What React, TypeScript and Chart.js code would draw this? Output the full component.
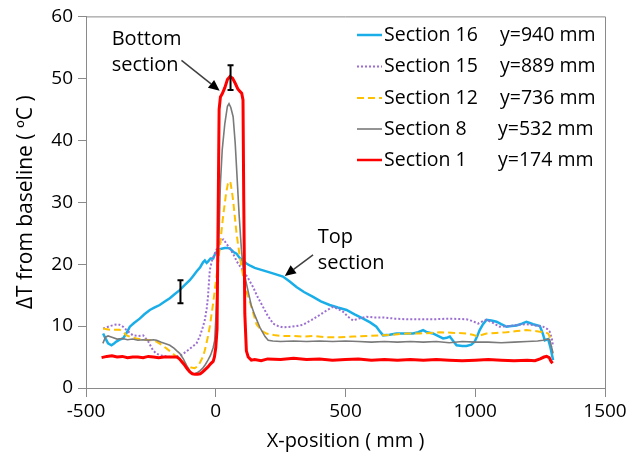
import React, { useEffect, useRef } from "react";
import { Chart, registerables } from "chart.js";

Chart.register(...registerables);

// ---- Data ----
const s16X = [-434,-425,-415,-402,-392,-383,-370,-357,-345,-331,-315,-293,-275,-254,-235,-216,-195,-177,-160,-139,-120,-100,-87,-74,-60,-49,-42,-35,-30,-20,-10,-4,9,22,35,47,55,67,80,92,105,118,135,150,182,220,259,285,311,340,375,405,439,470,504,535,568,595,619,633,645,670,696,730,760,780,799,815,837,856,876,890,902,915,928,950,966,985,998,1007,1017,1030,1043,1062,1082,1100,1120,1140,1159,1180,1197,1210,1223,1249,1260,1268,1281,1290,1300];
const s16Y = [8.8,8.0,7.2,6.9,7.2,7.5,7.8,8.0,8.8,9.9,10.5,11.2,11.9,12.6,13.0,13.4,14.0,14.5,15.1,15.8,16.6,17.4,18.1,18.8,19.5,20.3,20.6,20.2,20.4,20.9,20.9,21.5,22.3,22.5,22.6,22.6,22.5,22.0,21.7,21.0,20.6,20.1,19.7,19.4,19.0,18.5,18.0,17.2,16.3,15.5,14.7,14.0,13.4,13.0,12.6,11.9,11.2,10.6,9.9,9.1,8.5,8.6,8.8,8.8,8.8,9.0,9.35,9.0,8.8,8.4,8.0,8.1,8.3,7.6,6.9,6.8,6.8,7.0,7.5,8.3,9.35,10.3,11.0,10.9,10.7,10.3,9.9,10.0,10.1,10.4,10.7,10.5,10.3,10.0,8.8,7.7,7.9,6.5,4.5];

const s15X = [-434,-420,-408,-390,-376,-365,-357,-340,-319,-300,-280,-260,-242,-230,-216,-190,-170,-151,-130,-113,-95,-74,-60,-50,-42,-35,-30,-23,-15,-4,8,15,22,30,41,55,73,80,99,105,125,144,160,182,200,221,240,259,290,310,336,370,401,430,452,470,491,510,529,550,581,610,645,690,735,780,837,900,966,990,1011,1030,1043,1065,1094,1133,1165,1197,1230,1261,1278,1287,1295,1300];
const s15Y = [9.6,9.8,10.0,10.2,10.3,10.1,9.9,9.2,8.5,8.4,8.5,7.5,6.1,5.6,5.3,5.1,5.0,5.05,5.4,5.9,6.5,7.2,8.5,9.8,11.0,12.8,14.7,19.0,20.5,21.7,22.8,23.3,23.9,24.0,23.3,22.5,21.2,20.5,19.3,19.0,17.7,16.3,14.8,13.1,11.7,10.4,10.0,9.8,9.9,10.0,10.2,11.0,11.8,12.6,13.1,12.8,12.3,11.5,10.9,11.2,11.5,11.4,11.4,11.2,11.1,11.1,11.1,11.2,11.1,10.8,10.4,10.8,11.0,10.6,9.9,10.0,10.2,10.3,10.1,9.9,9.5,9.1,8.0,6.7];

const s12X = [-434,-420,-408,-390,-370,-355,-344,-325,-306,-280,-250,-228,-210,-190,-170,-151,-130,-113,-95,-81,-70,-62,-50,-42,-30,-23,-10,3,15,28,40,47,52,57,62,67,80,90,99,115,131,145,157,175,195,230,259,300,340,375,420,478,530,580,632,680,735,786,830,863,920,966,990,1005,1020,1043,1080,1120,1160,1197,1230,1249,1270,1281,1294];
const s12Y = [9.6,9.5,9.4,9.4,9.4,9.0,8.5,8.2,8.0,7.8,7.7,7.5,7.0,6.4,5.7,5.05,4.3,3.7,3.3,3.2,3.5,4.0,5.0,6.1,8.3,9.9,13.7,18.0,22.5,27.6,31.5,33.0,33.4,33.1,31.8,30.3,25.0,22.0,19.6,16.0,14.0,12.0,10.3,9.3,8.8,8.5,8.4,8.4,8.3,8.4,8.2,8.2,8.3,8.4,8.5,8.6,8.8,8.8,8.9,9.0,8.9,8.8,8.6,8.4,8.5,8.8,8.9,9.0,9.2,9.35,9.2,9.1,9.0,8.8,7.7];

const s8X = [-435,-425,-415,-400,-380,-360,-340,-320,-300,-280,-260,-240,-228,-210,-190,-177,-160,-150,-139,-125,-113,-100,-94,-90,-80,-70,-60,-50,-40,-30,-20,-10,-4,0,5,9,18,25,35,45,51,58,67,75,80,90,99,105,118,137,150,170,190,202,220,250,300,350,400,450,500,550,600,650,700,750,800,850,900,950,1000,1050,1100,1150,1200,1240,1261,1280,1287,1293,1300];
const s8Y = [7.2,8.2,8.4,8.2,7.9,8.0,7.8,7.9,7.7,7.8,7.7,7.8,7.7,7.4,7.1,6.9,6.4,6.0,5.6,4.7,3.7,2.8,2.4,2.3,2.3,2.5,2.8,3.2,3.8,4.5,5.3,6.5,7.7,11.0,16.0,19.6,33.0,38.5,42.7,45.5,45.9,45.3,43.8,39.5,35.7,28.0,22.3,19.6,16.9,13.3,11.8,9.8,8.3,7.7,7.6,7.5,7.6,7.5,7.6,7.5,7.6,7.5,7.4,7.5,7.4,7.5,7.4,7.5,7.3,7.5,7.4,7.4,7.3,7.4,7.5,7.6,7.7,7.9,7.8,6.8,5.6];

const s1X = [-440,-420,-400,-380,-360,-340,-320,-300,-280,-260,-240,-220,-200,-180,-160,-150,-140,-130,-120,-110,-100,-90,-80,-70,-60,-50,-40,-30,-20,-10,-5,0,5,9,13,18,25,35,45,55,65,75,85,95,100,105,108,112,118,125,137,150,175,200,250,300,350,400,450,500,550,600,650,700,750,800,850,900,950,1000,1050,1100,1150,1200,1230,1250,1265,1275,1285,1292,1298];
const s1Y = [4.9,5.1,5.2,5.0,5.1,4.9,5.0,5.0,4.9,5.1,5.0,4.9,5.0,5.0,5.0,5.0,4.7,4.2,3.7,3.1,2.6,2.3,2.2,2.2,2.3,2.6,3.0,3.4,3.9,4.3,5.0,6.5,9.5,27.0,45.0,47.0,47.5,48.5,49.8,50.3,50.0,49.2,48.3,47.8,47.6,46.5,30.0,12.0,6.0,5.0,4.5,4.6,4.4,4.7,4.6,4.8,4.6,4.7,4.5,4.6,4.7,4.5,4.6,4.5,4.6,4.5,4.6,4.5,4.4,4.5,4.6,4.5,4.4,4.5,4.4,4.7,5.0,5.1,4.9,4.3,4.0];

const seriesNames = ["Section 16", "Section 15", "Section 12", "Section 8", "Section 1"];
const seriesHeights = ["y=940 mm", "y=889 mm", "y=736 mm", "y=532 mm", "y=174 mm"];
const seriesColors = ["#1AAEE8", "#9B6FD0", "#FFC000", "#7A7A7A", "#FF0000"];

const xTicks = [-500, 0, 500, 1000, 1500];
const yTicks = [0, 10, 20, 30, 40, 50, 60];

// error bars (data units)
const errX = [-136, 57];
const errLow = [13.7, 48.1];
const errHigh = [17.4, 52.1];

// annotations (data units)
const noteLines = [["Bottom", "section"], ["Top", "section"]];
const noteX = [-401, 393];
const noteY = [[56.3, 52.1], [24.4, 20.1]];
const arrowFromX = [-132, 375];
const arrowFromY = [52.9, 21.5];
const arrowToX = [15, 266];
const arrowToY = [48.0, 18.1];

const FONT = "'Open Sans', 'DejaVu Sans', sans-serif";

function pts(xs: number[], ys: number[]) {
  return xs.map((x, i) => ({ x, y: ys[i] }));
}

const overlayPlugin = {
  id: "overlay",
  afterDatasetsDraw(chart: any) {
    const ctx = chart.ctx;
    const xs = chart.scales.x;
    const ys = chart.scales.y;
    const area = chart.chartArea;
    ctx.save();
    // plot border (top & right)
    ctx.strokeStyle = "#8A8A8A";
    ctx.lineWidth = 1;
    ctx.beginPath();
    ctx.moveTo(area.left, area.top + 0.5);
    ctx.lineTo(area.right + 0.5, area.top + 0.5);
    ctx.lineTo(area.right + 0.5, area.bottom);
    ctx.stroke();

    // error bars
    ctx.strokeStyle = "#000";
    ctx.lineWidth = 2;
    for (let i = 0; i < errX.length; i++) {
      const px = xs.getPixelForValue(errX[i]);
      const p1 = ys.getPixelForValue(errLow[i]);
      const p2 = ys.getPixelForValue(errHigh[i]);
      ctx.beginPath();
      ctx.moveTo(px, p1);
      ctx.lineTo(px, p2);
      ctx.moveTo(px - 3, p1);
      ctx.lineTo(px + 3, p1);
      ctx.moveTo(px - 3, p2);
      ctx.lineTo(px + 3, p2);
      ctx.stroke();
    }

    // annotations
    ctx.fillStyle = "#000";
    ctx.font = `20px ${FONT}`;
    ctx.textAlign = "left";
    ctx.textBaseline = "middle";
    for (let i = 0; i < noteLines.length; i++) {
      const px = xs.getPixelForValue(noteX[i]);
      noteLines[i].forEach((t, j) => {
        ctx.fillText(t, px, ys.getPixelForValue(noteY[i][j]));
      });
      const x1 = xs.getPixelForValue(arrowFromX[i]);
      const y1 = ys.getPixelForValue(arrowFromY[i]);
      const x2 = xs.getPixelForValue(arrowToX[i]);
      const y2 = ys.getPixelForValue(arrowToY[i]);
      const ang = Math.atan2(y2 - y1, x2 - x1);
      const hl = 11, hw = 5;
      const bx = x2 - hl * Math.cos(ang);
      const by = y2 - hl * Math.sin(ang);
      ctx.strokeStyle = "#404040";
      ctx.lineWidth = 1.5;
      ctx.beginPath();
      ctx.moveTo(x1, y1);
      ctx.lineTo(bx, by);
      ctx.stroke();
      ctx.fillStyle = "#000";
      ctx.beginPath();
      ctx.moveTo(x2, y2);
      ctx.lineTo(bx + hw * Math.sin(ang), by - hw * Math.cos(ang));
      ctx.lineTo(bx - hw * Math.sin(ang), by + hw * Math.cos(ang));
      ctx.closePath();
      ctx.fill();
    }

    // legend
    const ds = chart.data.datasets;
    const rowY = [35, 66.5, 98, 129, 160];
    const col2 = [500, 500, 500, 498, 498];
    ctx.font = `19.5px ${FONT}`;
    for (let i = 0; i < ds.length; i++) {
      const d = ds[i];
      ctx.strokeStyle = d.borderColor;
      ctx.lineWidth = Math.min(d.borderWidth, 2.5);
      ctx.setLineDash(d.borderDash || []);
      ctx.beginPath();
      ctx.moveTo(357, rowY[i]);
      ctx.lineTo(382, rowY[i]);
      ctx.stroke();
      ctx.setLineDash([]);
      ctx.fillStyle = "#000";
      ctx.fillText(seriesNames[i], 384, rowY[i]);
      ctx.fillText(seriesHeights[i], col2[i], rowY[i]);
    }
    ctx.restore();
  },
};

export default function App() {
  const ref = useRef<HTMLCanvasElement>(null);
  useEffect(() => {
    document.body.style.margin = "0";
    const xsData = [s16X, s15X, s12X, s8X, s1X];
    const ysData = [s16Y, s15Y, s12Y, s8Y, s1Y];
    const widths = [2.5, 2, 2, 1.6, 3];
    const dashes: number[][] = [[], [2, 2], [7, 4], [], []];
    const orders = [5, 4, 3, 2, 1];
    const chart = new Chart(ref.current!, {
      type: "line",
      data: {
        datasets: seriesNames.map((n, i) => ({
          label: n,
          data: pts(xsData[i], ysData[i]),
          borderColor: seriesColors[i],
          backgroundColor: seriesColors[i],
          borderWidth: widths[i],
          borderDash: dashes[i],
          pointRadius: 0,
          tension: 0,
          fill: false,
          order: orders[i],
        })),
      },
      options: {
        animation: false,
        responsive: false,
        maintainAspectRatio: false,
        layout: { padding: { left: 0, top: 16, right: 25, bottom: 0 } },
        plugins: { legend: { display: false }, tooltip: { enabled: false } },
        scales: {
          x: {
            type: "linear",
            min: -500,
            max: 1500,
            afterBuildTicks: (s: any) => { s.ticks = xTicks.map((v) => ({ value: v })); },
            afterFit: (s: any) => { s.height = 73; },
            grid: { display: true, drawOnChartArea: false, drawTicks: true, tickLength: 9, color: "#8A8A8A" },
            border: { display: true, color: "#8A8A8A" },
            ticks: { color: "#000", font: { family: FONT, size: 19 }, padding: 3, maxRotation: 0, callback: (v: any) => String(v) },
            title: { display: true, text: "X-position ( mm )", color: "#000", font: { family: FONT, size: 20 }, padding: { top: 0, bottom: 8 } },
          },
          y: {
            type: "linear",
            min: 0,
            max: 60,
            afterBuildTicks: (s: any) => { s.ticks = yTicks.map((v) => ({ value: v })); },
            afterFit: (s: any) => { s.width = 86; },
            grid: { display: true, drawOnChartArea: false, drawTicks: true, tickLength: 8, color: "#8A8A8A" },
            border: { display: true, color: "#8A8A8A" },
            ticks: { color: "#000", font: { family: FONT, size: 19 }, padding: 5, callback: (v: any) => String(v) },
            title: { display: true, text: "ΔT from baseline ( ºC )", color: "#000", font: { family: FONT, size: 21 }, padding: { top: 13, bottom: 0 } },
          },
        },
      },
      plugins: [overlayPlugin],
    });
    return () => chart.destroy();
  }, []);
  return (
    <div style={{ width: 630, height: 461 }}>
      <canvas ref={ref} width={630} height={461} style={{ width: 630, height: 461, display: "block" }} />
    </div>
  );
}
